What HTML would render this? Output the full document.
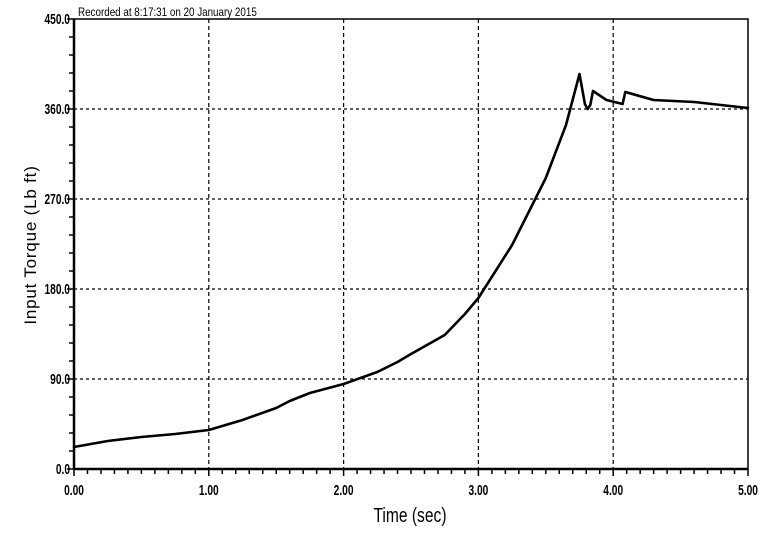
<!DOCTYPE html>
<html><head><meta charset="utf-8"><style>
body{margin:0;background:#fff}
svg{display:block;font-family:"Liberation Sans",sans-serif}
</style></head><body>
<svg id="chart" width="760" height="536" viewBox="0 0 760 536">
<g id="grid"></g>
<g id="axes"></g>
<path id="line" fill="none" stroke="#000" stroke-width="2.6" stroke-linejoin="round" stroke-linecap="round"/>
<text x="78" y="16" font-size="12" transform="translate(78 0) scale(0.82 1) translate(-78 0)">Recorded at 8:17:31 on 20 January 2015</text>
<text x="410" y="522" font-size="20" text-anchor="middle" transform="translate(410 0) scale(0.78 1) translate(-410 0)">Time (sec)</text>
<text x="0" y="0" font-size="17" text-anchor="middle" transform="translate(36 245) rotate(-90)" letter-spacing="0.8">Input Torque (Lb ft)</text>
</svg>
<script>
const times=[0,0.25,0.5,0.75,1.0,1.25,1.5,1.6,1.75,2.0,2.25,2.4,2.5,2.75,2.9,3.0,3.25,3.5,3.65,3.75,3.79,3.81,3.83,3.85,3.95,4.07,4.09,4.3,4.6,5.0];
const torque=[22,28,32,35,39,49,61,68,76,85,97,107,115,134,155,171,224,291,344,395,365,360,364,378,369,365,377,369,367,361];
const xTicks=["0.00","1.00","2.00","3.00","4.00","5.00"];
const yTicks=["0.0","90.0","180.0","270.0","360.0","450.0"];
const X0=74,X1=748,Y0=469,Y1=19;
const x=t=>X0+(t/5)*(X1-X0);
const y=v=>Y0-(v/450)*(Y0-Y1);
const NS="http://www.w3.org/2000/svg";
function mk(tag,parent,attrs){const e=document.createElementNS(NS,tag);for(const k in attrs)e.setAttribute(k,attrs[k]);parent.appendChild(e);return e;}
const grid=document.getElementById('grid'),axes=document.getElementById('axes');
xTicks.forEach((lab,i)=>{const v=parseFloat(lab);const px=x(v);
 if(i>0&&i<xTicks.length-1){const l=mk('line',grid,{x1:px,x2:px,y1:Y1,y2:Y0,stroke:'#000','stroke-width':1.2,'stroke-dasharray':'4 3'});
 
 }
 const t=mk('text',axes,{x:px,y:Y0+26,'font-size':15,'font-weight':'bold','text-anchor':'middle',transform:`translate(${px} 0) scale(0.68 1) translate(${-px} 0)`});t.textContent=lab;
 
 });
yTicks.forEach((lab,i)=>{const v=parseFloat(lab);const py=y(v);
 if(i>0&&i<yTicks.length-1){const l=mk('line',grid,{x1:X0,x2:X1,y1:py,y2:py,stroke:'#000','stroke-width':1.2,'stroke-dasharray':'3 3'});
 
 }
 const t=mk('text',axes,{x:X0-4,y:py+5,'font-size':15,'font-weight':'bold','text-anchor':'end',transform:`translate(${X0-4} 0) scale(0.68 1) translate(${-(X0-4)} 0)`});t.textContent=lab;
 
 });
for(let k=0;k<=50;k++){const px=x(k*0.1);mk('line',axes,{x1:px,x2:px,y1:Y0,y2:Y0+(k%10==0?7:5),stroke:'#000','stroke-width':1.5});}
for(let k=0;k<=25;k++){const py=y(k*18);mk('line',axes,{x1:X0-(k%5==0?7:5),x2:X0,y1:py,y2:py,stroke:'#000','stroke-width':1.5});}
const b=mk('rect',axes,{x:X0,y:Y1,width:X1-X0,height:Y0-Y1,fill:'none',stroke:'#000','stroke-width':1.5});


mk('line',axes,{x1:X0,x2:X1,y1:Y0,y2:Y0,stroke:'#000','stroke-width':2.5});
mk('line',axes,{x1:X0,x2:X0,y1:Y1,y2:Y0,stroke:'#000','stroke-width':2.5});
document.getElementById('line').setAttribute('d',times.map((t,i)=>(i?'L':'M')+x(t).toFixed(1)+' '+y(torque[i]).toFixed(1)).join(' '));
</script>
</body></html>
